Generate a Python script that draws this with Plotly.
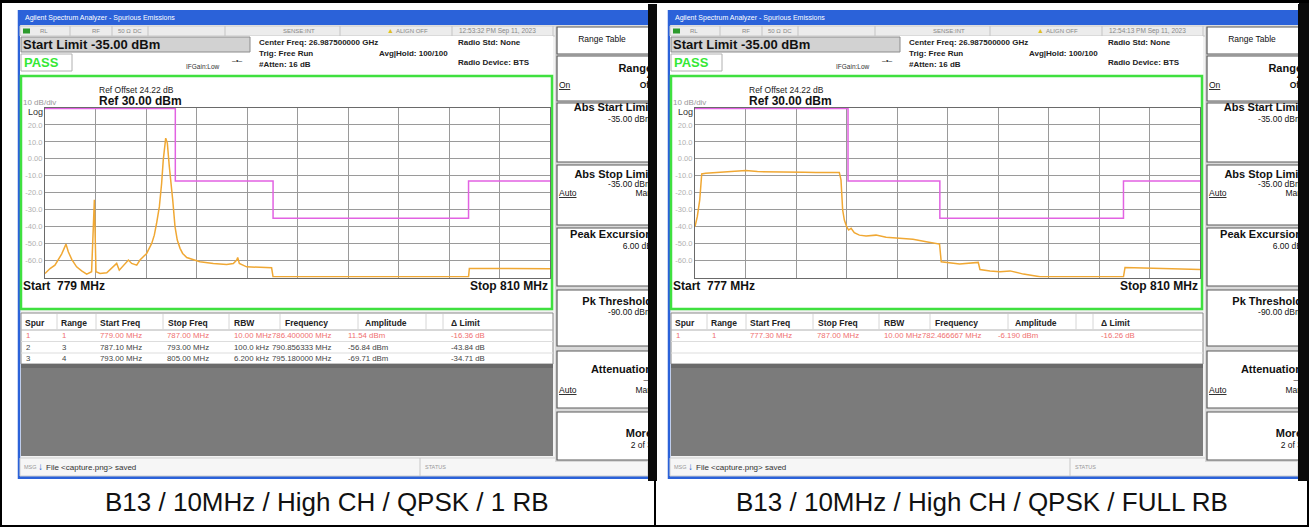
import numpy as np
import plotly.graph_objects as go

W, H = 1309, 527
FONT = "Liberation Sans, Arial, sans-serif"

# ---------------- data ----------------
left_freq_mhz = [779.00, 779.31, 779.61, 779.82, 780.02, 780.29, 780.43, 780.64, 780.94, 781.25,
                 781.56, 781.86, 782.03, 782.13, 782.38, 782.79, 783.19, 783.40, 783.56, 783.91,
                 784.12, 784.32, 784.63, 784.83, 785.04, 785.24, 785.55, 785.71, 785.85, 786.02,
                 786.16, 786.26, 786.41, 786.51, 786.63, 786.73, 786.84, 786.98, 787.12, 787.29,
                 787.45, 787.70, 788.00, 788.51, 789.33, 790.15, 790.56, 790.77, 790.83, 790.93,
                 791.38, 792.20, 792.91, 793.00, 799.00, 805.00, 805.05, 807.50, 810.00]
left_trace_dbm = [-67.6, -64.7, -62.7, -59.7, -56.2, -50.3, -54.8, -59.3, -63.7, -66.1,
                  -68.0, -66.6, -24.2, -66.6, -67.6, -67.2, -63.7, -61.7, -65.7, -61.7,
                  -59.7, -61.7, -62.7, -59.7, -57.8, -55.8, -49.9, -45.0, -38.0, -28.2,
                  -14.4, -0.6, 12.2, 9.3, -4.5, -16.4, -24.2, -40.0, -47.9, -52.8,
                  -55.8, -58.2, -59.3, -60.7, -61.7, -62.3, -61.7, -59.7, -58.2, -61.7,
                  -63.7, -64.1, -64.3, -69.6, -69.6, -69.6, -64.7, -64.6, -64.8]

right_freq_mhz = [777.00, 777.15, 777.31, 777.44, 777.70, 778.35, 779.01, 779.66, 780.32, 781.08,
                  781.85, 782.61, 783.38, 784.14, 784.90, 785.67, 786.43, 786.54, 786.65, 786.76,
                  786.91, 787.04, 787.20, 787.41, 787.74, 788.18, 788.83, 789.49, 790.36, 791.24,
                  792.11, 792.98, 793.09, 793.64, 794.29, 795.51, 795.62, 796.28, 796.93, 797.59,
                  798.46, 799.55, 800.20, 805.00, 805.10, 807.20, 810.00]
right_trace_dbm = [-40.0, -34.1, -24.2, -8.9, -8.5, -8.1, -7.9, -7.3, -6.9, -7.5,
                   -7.5, -7.9, -7.7, -7.9, -8.1, -7.9, -8.1, -12.4, -30.2, -36.1,
                   -40.0, -42.0, -41.0, -43.6, -45.0, -45.5, -45.0, -46.3, -46.9, -47.5,
                   -48.9, -50.3, -60.7, -61.3, -62.1, -61.1, -65.3, -66.1, -66.6, -66.1,
                   -68.0, -69.6, -69.6, -69.6, -64.1, -64.7, -65.3]

limit_freq_left = [779, 787, 793, 805, 810]
limit_dbm_left = [29.7, -13, -35, -13, -13]
limit_freq_right = [777, 787, 793, 805, 810]
limit_dbm_right = [29.7, -13, -35, -13, -13]

left_span = [779, 810]
right_span = [777, 810]
ref_level = 30
bottom_level = -70
y_tick_vals = [20, 10, 0, -10, -20, -30, -40, -50, -60]
y_tick_text = ["20.0", "10.0", "0.00", "-10.0", "-20.0", "-30.0", "-40.0", "-50.0", "-60.0"]

table_header = ["Spur", "Range", "Start Freq", "Stop Freq", "RBW", "Frequency", "Amplitude", "Δ Limit"]
left_rows = [
    ["1", "1", "779.00 MHz", "787.00 MHz", "10.00 MHz", "786.400000 MHz", "11.54 dBm", "-16.36 dB"],
    ["2", "3", "787.10 MHz", "793.00 MHz", "100.0 kHz", "790.856333 MHz", "-56.84 dBm", "-43.84 dB"],
    ["3", "4", "793.00 MHz", "805.00 MHz", "6.200 kHz", "795.180000 MHz", "-69.71 dBm", "-34.71 dB"],
]
right_rows = [
    ["1", "1", "777.30 MHz", "787.00 MHz", "10.00 MHz", "782.466667 MHz", "-6.190 dBm", "-16.26 dB"],
]
captions = ["B13 / 10MHz / High CH / QPSK / 1 RB", "B13 / 10MHz / High CH / QPSK / FULL RB"]
timestamps = ["12:53:32 PM Sep 11, 2023", "12:54:13 PM Sep 11, 2023"]
start_labels = ["Start  779 MHz", "Start  777 MHz"]
stop_labels = ["Stop 810 MHz", "Stop 810 MHz"]

# ---------------- helpers ----------------
def X(p):
    return p / W

def Y(p):
    return 1 - p / H

shapes = []
annotations = []

def rect(x0, y0, x1, y1, fill=None, line=None, lw=1, layer="below"):
    shapes.append(dict(type="rect", xref="paper", yref="paper",
                       x0=X(x0), x1=X(x1), y0=Y(y1), y1=Y(y0),
                       fillcolor=fill if fill else "rgba(0,0,0,0)",
                       line=dict(color=line if line else "rgba(0,0,0,0)", width=lw if line else 0),
                       layer=layer))

def seg(x0, y0, x1, y1, color, lw=1, layer="below"):
    shapes.append(dict(type="line", xref="paper", yref="paper",
                       x0=X(x0), x1=X(x1), y0=Y(y0), y1=Y(y1),
                       line=dict(color=color, width=lw), layer=layer))

def txt(x, y, s, size=9, color="#222", bold=False, anchor="left", family=FONT):
    annotations.append(dict(xref="paper", yref="paper", x=X(x), y=Y(y),
                            text=f"<b>{s}</b>" if bold else s, showarrow=False,
                            xanchor=anchor, yanchor="middle", borderpad=0,
                            font=dict(size=size, color=color, family=family)))

BLUE = "#2b62d9"
GREEN = "#3fe03f"
GRID = "#9a9a9a"
MAG = "#e262e2"
ORG = "#f0a834"

col_head_x = [24, 60, 99, 167, 233, 284, 364, 450]
col_val_x = [25, 61, 99, 166, 233, 271, 347, 450]
col_sep_x = [57, 96, 163, 229, 280, 358, 426, 443]

softkey_boxes = [(27, 54), (56, 101), (103, 162), (165, 225), (228, 286), (290, 346), (351, 408), (412, 460)]
softkey_items = [
    ("Range Table", 602, 40, 8.5, False, "middle center"),
    ("Range", 652, 69, 11, True, "middle left"),
    ("4", 652, 77, 9, True, "middle left"),
    ("<u>On</u>", 559, 86, 8.5, False, "middle right"),
    ("Off", 652, 86, 8.5, True, "middle left"),
    ("Abs Start Limit", 652, 108, 11, True, "middle left"),
    ("-35.00 dBm", 652, 120, 8.5, False, "middle left"),
    ("Abs Stop Limit", 652, 175, 11, True, "middle left"),
    ("-35.00 dBm", 652, 185, 8.5, False, "middle left"),
    ("<u>Auto</u>", 559, 194, 8.5, False, "middle right"),
    ("Man", 652, 194, 8.5, False, "middle left"),
    ("Peak Excursion", 652, 235, 11, True, "middle left"),
    ("6.00 dB", 652, 247, 8.5, False, "middle left"),
    ("Pk Threshold", 652, 302, 11, True, "middle left"),
    ("-90.00 dBm", 652, 313, 8.5, False, "middle left"),
    ("Attenuation", 652, 370, 11, True, "middle left"),
    ("—", 652, 381, 8.5, False, "middle left"),
    ("<u>Auto</u>", 559, 391, 8.5, False, "middle right"),
    ("Man", 652, 391, 8.5, False, "middle left"),
    ("More", 652, 434, 11, True, "middle left"),
    ("2 of 3", 652, 446, 8.5, False, "middle left"),
]


def panel(dx, idx, rows):
    # window frame
    rect(18 + dx, 10, 649 + dx, 479, fill="#f2f2f2")
    rect(18 + dx, 10, 649 + dx, 25, fill=BLUE)
    txt(24 + dx, 17.5, "Agilent Spectrum Analyzer - Spurious Emissions", 7, "#ffffff")
    seg(19 + dx, 10, 19 + dx, 479, BLUE, 2.5)
    seg(18 + dx, 477.5, 649 + dx, 477.5, BLUE, 3)
    # status row
    rect(20 + dx, 26, 648 + dx, 36, fill="#ececec", line="#c8c8c8")
    for sx in [70, 112, 148, 225, 340, 452, 553]:
        seg(sx + dx, 26, sx + dx, 36, "#c4c4c4", 1)
    rect(23 + dx, 28.5, 30 + dx, 33.5, fill="#2c9a2c")
    txt(39 + dx, 31, "RL", 6, "#888")
    txt(91 + dx, 31, "RF", 6, "#888")
    txt(117 + dx, 31, "50 Ω", 6, "#888")
    txt(132 + dx, 31, "DC", 6, "#888")
    txt(282 + dx, 31, "SENSE:INT", 6, "#888")
    txt(386 + dx, 30.5, "▲", 7, "#e0c020")
    txt(395 + dx, 31, "ALIGN OFF", 6, "#888")
    txt(458 + dx, 31, timestamps[idx], 6.5, "#888")
    # header area
    rect(20 + dx, 36, 553 + dx, 76, fill="#ffffff")
    rect(21 + dx, 37, 250 + dx, 52, fill="#d2d2d2", line="#8c8c8c")
    txt(22 + dx, 44.5, "Start Limit -35.00 dBm", 13, "#111", bold=True)
    rect(21 + dx, 54, 72 + dx, 71, fill="#ffffff", line="#b0b0b0")
    txt(23 + dx, 62, "PASS", 13, "#35e835", bold=True)
    txt(185 + dx, 66.5, "IFGain:Low", 6.5, "#333")
    txt(231 + dx, 60, "–•–", 7, "#333")
    txt(258 + dx, 43, "Center Freq: 26.987500000 GHz", 8, "#222", bold=True)
    txt(258 + dx, 53, "Trig: Free Run", 8, "#222", bold=True)
    txt(258 + dx, 64, "#Atten: 16 dB", 8, "#222", bold=True)
    txt(378 + dx, 53, "Avg|Hold: 100/100", 8, "#222", bold=True)
    txt(457 + dx, 43, "Radio Std: None", 8, "#222", bold=True)
    txt(457 + dx, 63, "Radio Device: BTS", 8, "#222", bold=True)
    # graticule box
    rect(21 + dx, 76, 552 + dx, 309, fill="#ffffff", line=GREEN, lw=2.5)
    txt(98 + dx, 90, "Ref Offset 24.22 dB", 8.5, "#222")
    txt(98 + dx, 101, "Ref 30.00 dBm", 12, "#111", bold=True)
    txt(22 + dx, 102, "10 dB/div", 8, "#999")
    txt(27 + dx, 112, "Log", 9, "#333")
    txt(22 + dx, 286, start_labels[idx], 12, "#111", bold=True)
    txt(549 + dx, 286, stop_labels[idx], 12, "#111", bold=True, anchor="right")
    # table
    rect(21 + dx, 313, 553 + dx, 364, fill="#ffffff", line="#8a8a8a")
    seg(21 + dx, 330, 553 + dx, 330, "#b0b0b0", 1)
    for r in range(1, 3):
        seg(21 + dx, 330 + r * 11.5, 553 + dx, 330 + r * 11.5, "#dddddd", 1)
    for sx in col_sep_x:
        seg(sx + dx, 314, sx + dx, 330, "#d6d6d6", 1)
    for hx, h in zip(col_head_x, table_header):
        txt(hx + dx, 322.5, h, 8.5, "#222", bold=True)
    for ri, row in enumerate(rows):
        color = "#f07070" if ri == 0 else "#444"
        for vx, v in zip(col_val_x, row):
            txt(vx + dx, 335.5 + ri * 11.5, v, 7.8, color)
    # gray area
    rect(21 + dx, 364, 553 + dx, 456, fill="#7b7b7b")
    rect(21 + dx, 364, 553 + dx, 368, fill="#6a6a6a")
    # status bar
    rect(20 + dx, 458, 648 + dx, 476, fill="#f6f6f6", line="#cfcfcf")
    seg(420 + dx, 458, 420 + dx, 476, "#c8c8c8", 1)
    txt(23 + dx, 467, "MSG", 5.5, "#999")
    txt(37 + dx, 466, "↓", 10, "#2a6ad8", bold=True)
    txt(45 + dx, 467, "File &lt;capture.png&gt; saved", 8, "#333")
    txt(424 + dx, 467, "STATUS", 5.5, "#999")
    # softkey panel
    rect(555 + dx, 26, 649 + dx, 462, fill="#d9d9d9")
    for (t, b) in softkey_boxes:
        rect(557 + dx, t, 649 + dx, b, fill="#ffffff", line="#5a5a5a", lw=1.2)
    # right black screen edge
    rect(648 + dx, 4, 657 + dx, 481, fill="#0a0a0a")


panel(0, 0, left_rows)
panel(650, 1, right_rows)

# outer frame and dividers
rect(0.5, 0.5, 1308.5, 526.5, line="#000000", lw=3, layer="above")
seg(655, 480, 655, 527, "#000000", 2, layer="above")
rect(1299, 3, 1309, 481, fill="#0a0a0a", layer="above")
rect(0, 0, 1309, 3, fill="#000000", layer="above")

# captions
txt(327, 502, captions[0], 26, "#111", anchor="center")
txt(982, 502, captions[1], 26, "#111", anchor="center")

# ---------------- figure ----------------
fig = go.Figure()

fig.add_trace(go.Scatter(x=limit_freq_left, y=limit_dbm_left, mode="lines",
                         line=dict(color=MAG, width=1.5, shape="hv"),
                         xaxis="x", yaxis="y", hoverinfo="skip", showlegend=False))
fig.add_trace(go.Scatter(x=left_freq_mhz, y=left_trace_dbm, mode="lines",
                         line=dict(color=ORG, width=1.5),
                         xaxis="x", yaxis="y", hoverinfo="skip", showlegend=False))
fig.add_trace(go.Scatter(x=limit_freq_right, y=limit_dbm_right, mode="lines",
                         line=dict(color=MAG, width=1.5, shape="hv"),
                         xaxis="x2", yaxis="y2", hoverinfo="skip", showlegend=False))
fig.add_trace(go.Scatter(x=right_freq_mhz, y=right_trace_dbm, mode="lines",
                         line=dict(color=ORG, width=1.5),
                         xaxis="x2", yaxis="y2", hoverinfo="skip", showlegend=False))

# softkey texts, clipped at the screen edge
for k, dx in enumerate([0, 650]):
    fig.add_trace(go.Scatter(
        x=[it[1] + dx for it in softkey_items],
        y=[it[2] for it in softkey_items],
        text=[f"<b>{it[0]}</b>" if it[4] else it[0] for it in softkey_items],
        textposition=[it[5] for it in softkey_items],
        textfont=dict(family=FONT, size=[it[3] for it in softkey_items], color="#111"),
        mode="text", cliponaxis=True, hoverinfo="skip", showlegend=False,
        xaxis="x3" if k == 0 else "x4", yaxis="y3" if k == 0 else "y4"))

def data_xaxis(span, dom):
    return dict(domain=dom, range=span, tickvals=list(np.linspace(span[0], span[1], 11)),
                showticklabels=False, showgrid=True, gridcolor=GRID, gridwidth=1,
                zeroline=False, showline=True, linecolor="#6a6a6a", linewidth=1.2,
                mirror=True, ticks="", fixedrange=True)

def data_yaxis(dom):
    return dict(domain=dom, range=[bottom_level, ref_level], tickvals=y_tick_vals,
                ticktext=y_tick_text, tickfont=dict(size=7.5, color="#b0b0b0", family=FONT),
                showgrid=True, gridcolor=GRID, gridwidth=1, zeroline=False, showline=True,
                linecolor="#6a6a6a", linewidth=1.2, mirror=True, ticks="", fixedrange=True)

ydom = [Y(277.5), Y(108)]
hidden = dict(visible=False, showgrid=False, zeroline=False, fixedrange=True)

fig.update_layout(
    width=W, height=H,
    margin=dict(l=0, r=0, t=0, b=0),
    paper_bgcolor="#ffffff",
    plot_bgcolor="rgba(0,0,0,0)",
    showlegend=False,
    hovermode=False,
    xaxis=dict(**data_xaxis(left_span, [X(45), X(550)]), anchor="y"),
    yaxis=dict(**data_yaxis(ydom), anchor="x"),
    xaxis2=dict(**data_xaxis(right_span, [X(695), X(1200)]), anchor="y2"),
    yaxis2=dict(**data_yaxis(ydom), anchor="x2"),
    xaxis3=dict(**hidden, domain=[X(557), X(648)], range=[557, 648], anchor="y3"),
    yaxis3=dict(**hidden, domain=[Y(476), Y(26)], range=[476, 26], anchor="x3"),
    xaxis4=dict(**hidden, domain=[X(1207), X(1298)], range=[1207, 1298], anchor="y4"),
    yaxis4=dict(**hidden, domain=[Y(476), Y(26)], range=[476, 26], anchor="x4"),
    shapes=shapes,
    annotations=annotations,
)

fig.write_html("out.html", config={"displayModeBar": False},
               post_script="document.body.style.margin='0';document.body.style.overflow='hidden';")
